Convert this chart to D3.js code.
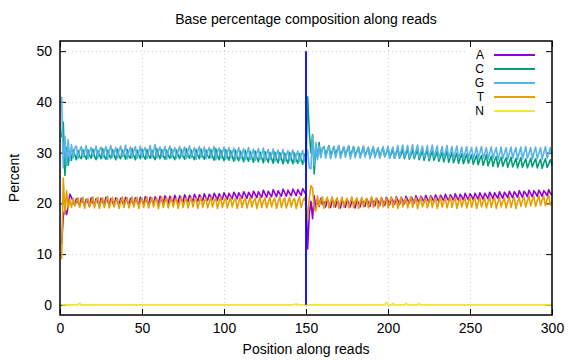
<!DOCTYPE html>
<html>
<head>
<meta charset="utf-8">
<script src="https://cdn.jsdelivr.net/npm/d3@7"></script>
<style>
html,body{margin:0;padding:0;background:#fff;}
svg{display:block;font-family:"Liberation Sans",Arial,sans-serif;}
</style>
</head>
<body>
<svg id="chart" width="576" height="360"></svg>
<script>
const titleText = "Base percentage composition along reads";
const xLabel = "Position along reads";
const yLabel = "Percent";
const xTicks = [0, 50, 100, 150, 200, 250, 300];
const yTicks = [0, 10, 20, 30, 40, 50];
const bases = ["A", "C", "G", "T", "N"];
const colors = ["#9400d3", "#009e73", "#56b4e9", "#e69f00", "#f0e442"];
const boundaryX = 150;
const boundaryY = [0, 50];

const A = [
12.0,17.5,18.8,17.8,19.5,21.8,21.2,20.4,19.6,20.9,
20.2,19.5,21.0,20.4,19.6,20.8,20.3,19.4,21.1,20.2,
19.6,20.9,20.4,19.5,21.0,20.3,19.7,21.2,20.5,19.6,
20.9,20.3,19.5,21.1,20.4,19.6,21.0,20.2,19.7,21.2,
20.5,19.6,21.0,20.3,19.8,21.1,20.4,19.7,21.2,20.6,
19.8,21.3,20.5,19.7,21.2,20.6,19.9,21.3,20.7,19.8,
21.4,20.6,20.0,21.5,20.8,20.0,21.4,20.7,20.1,21.6,
20.8,20.1,21.5,20.9,20.2,21.7,21.0,20.3,21.6,21.0,
20.4,21.8,21.1,20.4,21.7,21.2,20.5,21.9,21.1,20.6,
21.8,21.3,20.7,22.0,21.4,20.6,21.9,21.3,20.8,22.1,
21.5,20.8,22.0,21.4,20.9,22.2,21.6,20.9,22.1,21.5,
21.0,22.3,21.7,21.0,22.2,21.6,21.1,22.4,21.8,21.1,
22.3,21.7,21.2,22.6,21.9,21.2,22.4,21.8,21.3,22.7,
22.0,21.3,22.5,21.9,21.4,22.8,22.1,21.4,22.6,22.0,
21.5,22.8,22.2,21.5,22.7,22.1,21.6,22.9,22.3,21.8,
11.0,18.0,20.4,17.0,21.5,19.0,20.8,19.4,21.0,19.8,
20.3,19.3,20.7,20.0,19.2,20.8,20.1,19.3,20.6,19.9,
19.1,20.7,20.0,19.2,20.8,20.1,19.3,20.6,20.0,19.1,
20.7,20.1,19.3,20.8,20.2,19.4,20.9,20.2,19.4,21.0,
20.3,19.5,21.0,20.4,19.6,21.1,20.3,19.6,21.2,20.5,
19.7,21.1,20.5,19.8,21.3,20.6,19.8,21.2,20.6,19.9,
21.4,20.7,20.0,21.3,20.8,20.0,21.5,20.8,20.1,21.4,
20.9,20.2,21.6,20.9,20.2,21.5,21.0,20.3,21.7,21.0,
20.3,21.6,21.1,20.4,21.8,21.1,20.5,21.7,21.2,20.5,
21.9,21.2,20.6,21.8,21.3,20.6,22.0,21.3,20.7,21.9,
21.4,20.7,22.0,21.4,20.8,22.1,21.5,20.8,22.0,21.5,
20.9,22.2,21.6,20.9,22.1,21.5,21.0,22.3,21.6,21.0,
22.2,21.7,21.1,22.4,21.7,21.1,22.3,21.8,21.2,22.5,
21.8,21.2,22.4,21.9,21.3,22.6,21.9,21.3,22.5,22.0,
21.4,22.6,22.0,21.4,22.5,22.1,21.5,22.7,22.0,21.6
];

const C = [
33.0,36.0,25.5,31.0,27.5,30.2,28.5,30.6,29.6,28.6,
30.4,29.2,28.8,30.6,29.4,28.7,30.5,29.5,28.9,30.7,
29.3,28.6,30.4,29.6,28.8,30.8,29.2,28.7,30.5,29.4,
28.9,30.6,29.5,28.6,30.7,29.3,28.8,30.5,29.6,28.7,
30.6,29.2,28.9,30.8,29.4,28.6,30.5,29.5,28.8,30.7,
29.3,28.7,30.6,29.4,28.9,30.5,29.2,28.6,30.8,29.5,
28.8,30.6,29.3,28.7,30.5,29.4,28.9,30.7,29.2,28.6,
30.5,29.5,28.8,30.6,29.3,28.7,30.8,29.4,28.9,30.5,
29.2,28.6,30.6,29.5,28.8,30.7,29.3,28.7,30.5,29.4,
28.9,30.6,29.2,28.5,30.8,29.4,28.6,30.5,29.3,28.4,
30.6,29.2,28.5,30.4,29.3,28.3,30.5,29.1,28.4,30.3,
29.2,28.2,30.4,29.0,28.3,30.2,29.1,28.1,30.3,29.0,
28.2,30.1,29.0,28.0,30.2,28.9,28.1,30.0,28.9,27.9,
30.1,28.8,28.0,30.0,28.9,27.8,29.9,28.7,27.9,30.0,
28.8,27.8,29.9,28.6,27.9,29.8,28.7,27.7,29.6,28.4,
41.0,34.0,30.0,33.5,25.8,31.5,29.0,32.0,29.3,30.8,
31.2,29.6,30.4,31.4,29.5,30.3,31.2,29.7,30.5,31.3,
29.4,30.2,31.1,29.6,30.4,31.3,29.5,30.2,31.2,29.4,
30.3,31.1,29.3,30.1,31.2,29.5,30.2,31.0,29.2,30.1,
31.1,29.3,30.0,30.9,29.1,30.1,31.0,29.2,29.9,30.8,
29.0,29.8,30.7,28.9,29.9,30.8,28.9,29.7,30.6,28.8,
29.8,30.7,28.7,29.6,30.5,28.8,29.7,30.6,28.6,29.5,
30.4,28.5,29.6,30.5,28.4,29.4,30.3,28.5,29.3,30.2,
28.3,29.2,30.1,28.2,29.3,30.2,28.1,29.1,30.0,28.0,
29.0,29.9,27.9,28.9,29.8,27.8,28.8,29.7,27.9,28.7,
29.6,27.7,28.6,29.5,27.6,28.7,29.4,27.5,28.5,29.6,
27.4,28.4,29.3,27.3,28.5,29.2,27.2,28.3,29.1,27.3,
28.2,29.0,27.1,28.1,29.1,27.2,28.0,28.9,27.0,28.1,
29.0,27.1,28.0,28.8,27.0,27.9,28.9,27.2,28.1,28.8,
27.0,27.9,28.7,26.9,28.0,28.8,27.1,27.8,28.6,27.6
];

const G = [
41.0,27.0,33.2,27.4,32.6,28.4,31.6,29.0,30.9,31.3,
28.9,30.4,31.2,29.1,30.0,31.4,28.8,30.3,31.0,29.2,
30.1,31.3,28.9,30.5,31.1,29.0,30.2,31.2,28.7,30.3,
31.4,29.1,30.0,31.0,28.9,30.4,31.3,29.2,30.1,31.5,
28.8,30.2,31.1,29.0,30.3,31.2,28.9,30.0,31.3,29.1,
30.4,31.0,28.8,30.1,31.4,29.0,30.2,31.6,28.9,30.3,
31.1,29.1,30.0,31.2,28.7,30.4,31.3,29.0,30.1,31.0,
28.9,30.2,31.2,29.2,30.0,31.1,28.8,30.3,31.3,29.0,
30.1,31.0,28.7,30.2,31.2,29.1,30.0,31.1,28.8,30.3,
31.0,29.0,30.1,31.2,28.6,30.2,30.9,28.9,30.0,31.1,
28.7,30.1,31.0,28.9,29.9,30.9,28.6,30.0,31.0,28.8,
29.8,30.8,28.6,29.9,31.0,28.7,29.8,30.7,28.5,29.9,
30.8,28.7,29.7,30.9,28.4,29.8,30.6,28.6,29.6,30.7,
28.3,29.7,30.5,28.5,29.6,30.6,28.2,29.5,30.4,28.4,
29.6,30.5,28.1,29.4,30.3,28.3,29.5,30.4,28.2,29.8,
30.5,27.0,26.8,33.3,27.5,32.0,28.6,31.4,29.0,30.9,
31.2,28.9,30.3,31.3,28.8,30.1,31.2,29.0,30.2,31.4,
28.9,30.0,31.1,29.1,30.3,31.3,28.8,30.1,31.2,29.0,
30.2,31.0,28.9,30.0,31.3,29.1,30.2,31.1,28.8,30.1,
31.2,29.0,30.3,31.0,28.9,30.1,31.2,29.2,30.0,31.3,
28.9,30.2,31.1,29.0,30.1,31.4,29.1,30.3,31.5,29.2,
30.2,31.4,29.0,30.1,31.6,29.2,30.3,31.5,29.0,30.2,
31.3,29.1,30.0,31.4,28.9,30.2,31.5,29.1,30.1,31.3,
28.8,30.0,31.2,29.0,30.1,31.4,28.9,30.0,31.2,28.8,
30.1,31.3,28.9,29.9,31.1,28.7,30.0,31.2,28.8,30.1,
31.0,28.7,29.9,31.1,28.8,30.0,31.2,28.9,29.8,31.0,
28.7,29.9,31.1,28.8,30.0,31.0,28.6,29.8,31.1,28.8,
29.9,31.0,28.7,29.8,31.1,28.9,30.0,31.0,28.7,29.9,
31.1,28.8,30.0,31.2,28.9,29.9,31.0,28.7,30.0,31.1,
28.8,29.9,31.0,28.7,30.0,31.2,28.9,29.8,31.0,29.4
];

const T = [
9.0,25.0,18.2,22.5,19.0,20.8,19.2,21.0,19.6,20.2,
21.1,19.2,20.3,21.2,19.0,20.4,21.0,19.3,20.2,21.3,
19.1,20.5,21.2,19.0,20.3,21.1,19.2,20.4,21.4,19.1,
20.2,21.2,19.3,20.5,21.0,19.0,20.3,21.3,19.2,20.4,
21.1,19.1,20.2,21.3,19.3,20.5,21.2,19.0,20.3,21.1,
19.2,20.4,21.3,19.1,20.2,21.2,19.3,20.5,21.0,19.0,
20.3,21.3,19.2,20.4,21.1,19.1,20.2,21.2,19.3,20.5,
21.0,19.0,20.3,21.3,19.2,20.4,21.1,19.1,20.2,21.2,
19.3,20.5,21.0,19.0,20.3,21.3,19.2,20.4,21.1,19.1,
20.2,21.2,19.3,20.5,21.0,19.0,20.3,21.3,19.2,20.4,
21.1,19.1,20.2,21.2,19.3,20.5,21.0,19.0,20.3,21.3,
19.2,20.4,21.1,19.1,20.2,21.2,19.3,20.5,21.0,19.0,
20.3,21.3,19.2,20.4,21.1,19.1,20.2,21.2,19.3,20.5,
21.0,19.0,20.3,21.3,19.2,20.4,21.1,19.1,20.2,21.2,
19.3,20.5,21.0,19.0,20.3,21.3,19.2,20.4,21.1,20.0,
16.8,21.0,23.5,23.0,19.0,18.5,21.5,19.5,20.5,21.3,
19.0,20.4,21.2,19.1,20.3,21.3,19.2,20.5,21.1,19.0,
20.2,21.2,19.3,20.4,21.0,19.1,20.3,21.3,19.2,20.5,
21.1,19.0,20.2,21.2,19.3,20.4,21.0,19.1,20.3,21.3,
19.2,20.5,21.1,19.0,20.2,21.2,19.3,20.4,21.0,19.1,
20.3,21.3,19.2,20.5,21.1,19.0,20.2,21.2,19.3,20.4,
21.0,19.1,20.3,21.3,19.2,20.5,21.1,19.0,20.2,21.2,
19.3,20.4,21.0,19.1,20.3,21.3,19.2,20.5,21.1,19.0,
20.2,21.2,19.3,20.4,21.0,19.1,20.3,21.3,19.2,20.5,
21.1,19.0,20.2,21.2,19.3,20.4,21.0,19.1,20.3,21.3,
19.2,20.5,21.1,19.0,20.2,21.2,19.3,20.4,21.0,19.1,
20.3,21.3,19.2,20.5,21.1,19.0,20.2,21.2,19.3,20.4,
21.0,19.1,20.3,21.3,19.2,20.5,21.1,19.0,20.2,21.2,
19.4,20.6,21.2,19.3,20.5,21.4,19.5,20.7,21.3,19.4,
20.6,21.5,19.6,20.7,21.4,19.5,20.8,21.6,19.7,20.4
];

const N = [
0,0,0,0,0,0,0,0,0,0,
0,0.3,0,0,0,0,0,0,0,0,
0,0,0,0,0,0,0,0,0,0,
0,0,0,0,0,0,0,0,0,0,
0,0,0,0,0,0,0,0,0,0,
0,0,0,0,0,0,0,0,0,0,
0,0,0,0,0,0,0,0,0,0,
0,0,0,0,0,0,0,0,0,0,
0,0,0,0,0,0,0,0,0,0,
0,0,0,0,0,0,0,0,0,0,
0,0,0,0,0,0,0,0,0,0,
0,0,0,0,0,0,0,0,0,0,
0,0,0,0,0,0,0,0,0,0,
0,0,0,0,0,0,0,0,0,0,
0,0,0.1,0.15,0.1,0,0,0,0,0,
0,0,0,0,0,0,0,0,0,0,
0,0,0,0,0,0,0,0,0,0,
0,0,0,0,0,0,0,0,0,0,
0,0,0,0,0,0,0,0,0,0,
0,0,0,0,0,0,0,0,0.5,0,
0,0,0.3,0,0,0,0,0,0,0,
0.3,0,0,0,0,0,0,0,0.3,0,
0,0,0,0,0,0,0,0,0,0,
0,0,0,0,0,0,0,0,0,0,
0,0,0,0,0,0,0,0,0,0,
0,0,0,0,0,0,0,0,0,0,
0,0,0,0,0,0,0,0,0,0,
0,0,0,0,0,0,0,0,0,0,
0,0,0,0,0,0,0,0,0,0,
0,0,0,0,0,0,0,0,0,0
];

const seriesValues = [A, C, G, T, N];
const positions = A.map((_, i) => i + 1);

const W = 576, H = 360;
const margin = {left: 60, right: 24, top: 41, bottom: 45};
const x = d3.scaleLinear().domain([0, 300]).range([margin.left, W - margin.right]);
const y = d3.scaleLinear().domain([-2, 52]).range([H - margin.bottom, margin.top]);
const svg = d3.select("#chart");
const fs = 14;
const legendFs = 12;

// grid
const grid = svg.append("g").attr("stroke", "#cfcfcf").attr("stroke-width", 1).attr("stroke-dasharray", "1,3");
grid.selectAll(".gx").data(xTicks.filter(t => t > 0 && t < 300)).enter().append("line")
  .attr("x1", d => Math.round(x(d)) + 0.5).attr("x2", d => Math.round(x(d)) + 0.5)
  .attr("y1", y.range()[0]).attr("y2", y.range()[1]);
grid.selectAll(".gy").data(yTicks).enter().append("line")
  .attr("y1", d => Math.round(y(d)) + 0.5).attr("y2", d => Math.round(y(d)) + 0.5)
  .attr("x1", x.range()[0]).attr("x2", x.range()[1]);

// legend background (opaque key)
svg.append("rect").attr("x", 467).attr("y", 49).attr("width", 82).attr("height", 69).attr("fill", "#fff");

// axes with inward ticks
const bottomAxis = d3.axisBottom(x).tickValues(xTicks).tickSize(-6).tickPadding(8).tickFormat(d3.format("d"));
const topAxis = d3.axisTop(x).tickValues(xTicks).tickSize(-6).tickFormat("");
const leftAxis = d3.axisLeft(y).tickValues(yTicks).tickSize(-6).tickPadding(8).tickFormat(d3.format("d"));
const rightAxis = d3.axisRight(y).tickValues(yTicks).tickSize(-6).tickFormat("");

function styleAxis(g) {
  g.select(".domain").remove();
  g.selectAll(".tick line").attr("stroke", "#000").attr("stroke-width", 1);
  g.selectAll(".tick text").attr("fill", "#000").attr("font-size", fs).attr("font-family", "Liberation Sans, Arial, sans-serif");
}
svg.append("g").attr("transform", `translate(0,${y.range()[0]})`).call(bottomAxis).call(styleAxis);
svg.append("g").attr("transform", `translate(0,${y.range()[1]})`).call(topAxis).call(styleAxis);
svg.append("g").attr("transform", `translate(${x.range()[0]},0)`).call(leftAxis).call(styleAxis);
svg.append("g").attr("transform", `translate(${x.range()[1]},0)`).call(rightAxis).call(styleAxis);

// series
const line = d3.line().x((d, i) => x(positions[i])).y(d => y(d));
const plot = svg.append("g");
seriesValues.forEach((vals, k) => {
  plot.append("path").datum(vals).attr("d", line)
    .attr("fill", "none").attr("stroke", colors[k]).attr("stroke-width", 1.6)
    .attr("stroke-linejoin", "round");
});

// read boundary
svg.append("line")
  .attr("x1", x(boundaryX)).attr("x2", x(boundaryX))
  .attr("y1", y(boundaryY[0])).attr("y2", y(boundaryY[1]))
  .attr("stroke", "#0000ff").attr("stroke-width", 1.8);

// frame
svg.append("rect").attr("x", x.range()[0]).attr("y", y.range()[1])
  .attr("width", x.range()[1] - x.range()[0]).attr("height", y.range()[0] - y.range()[1])
  .attr("fill", "none").attr("stroke", "#000").attr("stroke-width", 1.5);

// legend
const leg = svg.append("g");
bases.forEach((b, k) => {
  const yy = 55 + k * 14;
  leg.append("text").attr("x", 484).attr("y", yy).attr("dy", "0.36em")
    .attr("text-anchor", "end").attr("font-size", legendFs).text(b);
  leg.append("line").attr("x1", 494).attr("x2", 535).attr("y1", yy).attr("y2", yy)
    .attr("stroke", colors[k]).attr("stroke-width", 2);
});

// title and labels
svg.append("text").attr("x", (x.range()[0] + x.range()[1]) / 2).attr("y", 24)
  .attr("text-anchor", "middle").attr("font-size", fs).text(titleText);
svg.append("text").attr("x", (x.range()[0] + x.range()[1]) / 2).attr("y", 354)
  .attr("text-anchor", "middle").attr("font-size", fs).text(xLabel);
svg.append("text").attr("transform", `translate(19,${(y.range()[0] + y.range()[1]) / 2}) rotate(-90)`)
  .attr("text-anchor", "middle").attr("font-size", fs).text(yLabel);
</script>
</body>
</html>
